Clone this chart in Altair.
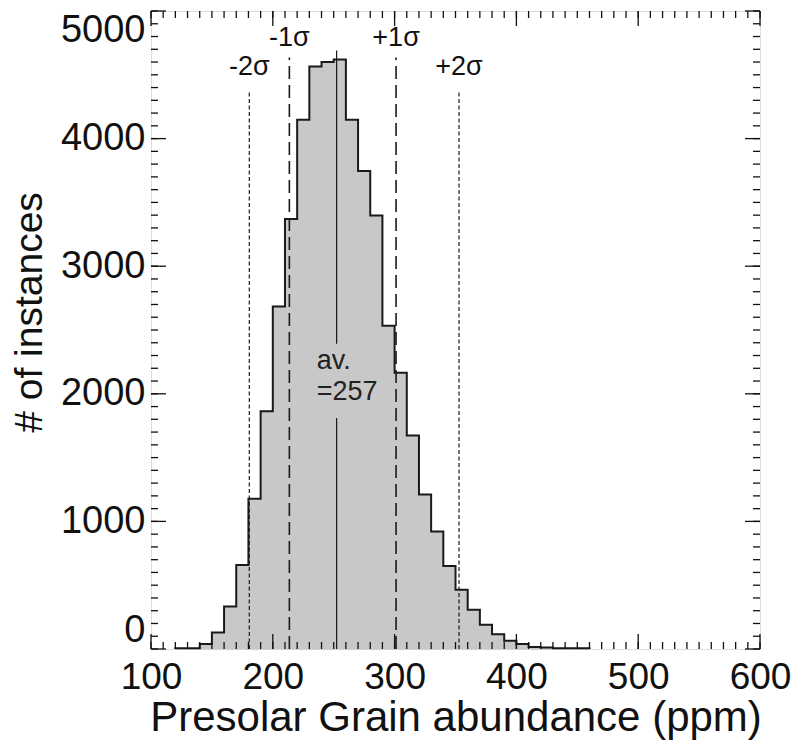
import altair as alt
import pandas as pd

# ---- data ----
bin_left = [120, 130, 140, 150, 160, 170, 180, 190, 200, 210, 220, 230, 240,
            250, 260, 270, 280, 290, 300, 310, 320, 330, 340, 350, 360, 370, 380,
            390, 400, 410, 420, 430, 440, 450]
counts = [5, 5, 39, 130, 333, 659, 1178, 1863, 2685, 3370, 4147, 4566, 4600,
          4620, 4147, 3746, 3398, 2533, 2165, 1674, 1210, 920, 650, 464, 307, 190, 116,
          64, 39, 16, 12, 5, 5, 5]
bin_width = 10

sigma1_pos = [213.6, 301.2]
sigma1_top = [4636, 4636]
sigma2_pos = [180.7, 352.9]
sigma2_top = [4380, 4380]
mean_pos = 252.4
mean_bottoms = [0, 2392]
mean_tops = [1811, 4690]

sigma_labels = ["-2σ", "-1σ", "+1σ", "+2σ"]
sigma_label_x = [180.7, 213.6, 301.2, 352.9]
sigma_label_y = [4497, 4729, 4729, 4497]

avg_labels = ["av.", "=257"]
avg_label_x = [236, 236]
avg_label_y = [2198, 1950]

x_major = [100, 200, 300, 400, 500, 600]
x_minor = list(range(100, 601, 10))
y_major = [0, 1000, 2000, 3000, 4000, 5000]
y_minor = list(range(0, 5001, 100))

W, H = 609, 638
FONT = "Liberation Sans"

xscale = alt.Scale(domain=[100, 600], nice=False, zero=False)
yscale = alt.Scale(domain=[0, 5000], nice=False)

hist = pd.DataFrame({"left": bin_left, "count": counts})
hist["right"] = hist["left"] + bin_width
hist["zero"] = 0

outline = pd.DataFrame({
    "x": [bin_left[0]] + bin_left + [bin_left[-1] + bin_width],
    "y": [0] + counts + [0],
})

xaxis = alt.Axis(values=x_major, format="d", labelFontSize=37, labelFont=FONT,
                 labelColor="#111", labelPadding=10, labelFlush=False, ticks=False,
                 domain=False, grid=False, title="Presolar Grain abundance (ppm)",
                 titleFontSize=42, titleFont=FONT, titleFontWeight="normal",
                 titleColor="#111", titlePadding=2)
yaxis = alt.Axis(values=y_major, format="d", labelFontSize=38, labelFont=FONT,
                 labelColor="#111", labelPadding=6, labelFlush=True, ticks=False,
                 domain=False, grid=False, title="# of instances",
                 titleFontSize=39, titleFont=FONT, titleFontWeight="normal",
                 titleColor="#111", titleX=-122, titleY=301, titleAngle=-90,
                 titleBaseline="middle", titleAlign="center")


def X(field):
    return alt.X(field, scale=xscale, axis=xaxis)


def Y(field):
    return alt.Y(field, scale=yscale, axis=yaxis)


fill = alt.Chart(hist).mark_rect(fill="#c8c8c8", stroke="#c8c8c8", strokeWidth=1).encode(
    x=X("left:Q"), x2="right:Q", y=Y("count:Q"), y2="zero:Q")

step = alt.Chart(outline).mark_line(interpolate="step-after", color="#1a1a1a",
                                    strokeWidth=2).encode(
    x=X("x:Q"), y=Y("y:Q"), order="x:Q")

s1 = pd.DataFrame({"x": sigma1_pos, "top": sigma1_top, "bot": [0, 0]})
s2 = pd.DataFrame({"x": sigma2_pos, "top": sigma2_top, "bot": [0, 0]})
mn = pd.DataFrame({"x": [mean_pos, mean_pos], "bot": mean_bottoms, "top": mean_tops})

r1 = alt.Chart(s1).mark_rule(color="#1a1a1a", strokeWidth=1.6, strokeDash=[13, 6]).encode(
    x=X("x:Q"), y=Y("bot:Q"), y2="top:Q")
r2 = alt.Chart(s2).mark_rule(color="#1a1a1a", strokeWidth=1.2, strokeDash=[4, 2.5]).encode(
    x=X("x:Q"), y=Y("bot:Q"), y2="top:Q")
rm = alt.Chart(mn).mark_rule(color="#1a1a1a", strokeWidth=1.2).encode(
    x=X("x:Q"), y=Y("bot:Q"), y2="top:Q")

sl = pd.DataFrame({"t": sigma_labels, "x": sigma_label_x, "y": sigma_label_y})
sig_text = alt.Chart(sl).mark_text(font=FONT, fontSize=27, color="#111", align="center",
                                   baseline="alphabetic").encode(
    x=X("x:Q"), y=Y("y:Q"), text="t:N")

al = pd.DataFrame({"t": avg_labels, "x": avg_label_x, "y": avg_label_y})
avg_text = alt.Chart(al).mark_text(font=FONT, fontSize=27, color="#222", align="left",
                                   baseline="alphabetic").encode(
    x=X("x:Q"), y=Y("y:Q"), text="t:N")


# ---- inward ticks on all four sides ----
def xticks(vals, y0, y1):
    return alt.Chart(pd.DataFrame({"t": vals})).mark_rule(color="#111", strokeWidth=1.3).encode(
        x=X("t:Q"), y=alt.value(y0), y2=alt.value(y1))


def yticks(vals, x0, x1):
    return alt.Chart(pd.DataFrame({"t": vals})).mark_rule(color="#111", strokeWidth=1.3).encode(
        y=Y("t:Q"), x=alt.value(x0), x2=alt.value(x1))


ticks = [
    xticks(x_minor, H, H - 7), xticks(x_major, H, H - 15),
    xticks(x_minor, 0, 7), xticks(x_major, 0, 15),
    yticks(y_minor, 0, 7), yticks(y_major, 0, 15),
    yticks(y_minor, W, W - 7), yticks(y_major, W, W - 15),
]

chart = alt.layer(fill, step, r2, r1, rm, sig_text, avg_text, *ticks).properties(
    width=W, height=H,
    autosize=alt.AutoSizeParams(type="none"),
    padding={"left": 143, "top": 3, "right": 32, "bottom": 94},
).configure_view(stroke="#111", strokeWidth=1.6).configure(background="white")

chart.save("out.html", embed_options={"renderer": "svg", "actions": False})
